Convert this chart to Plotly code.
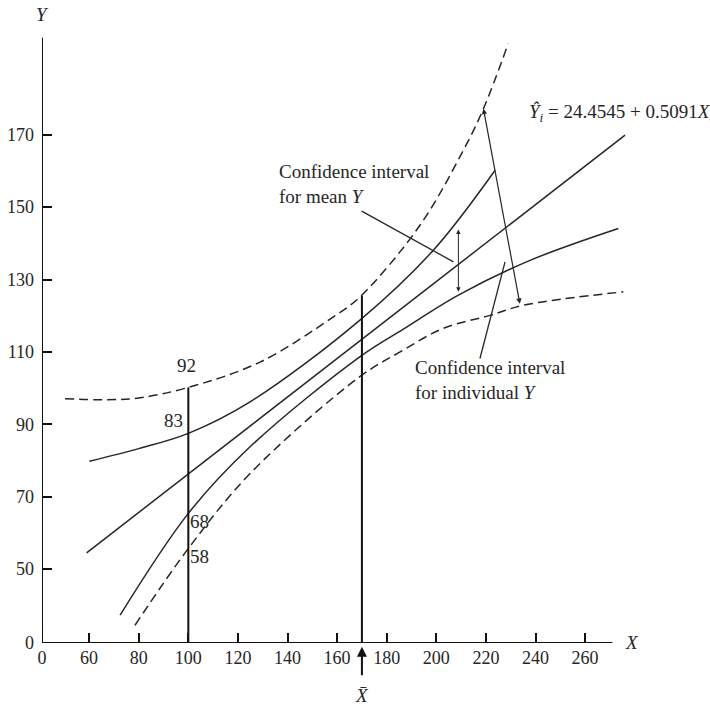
import plotly.graph_objects as go

FONT = "Liberation Serif"
INK = "#262626"

# ---- axis ticks (broken axes: the "0" label marks the origin) ----
x_tick_vals = [41, 60, 80, 100, 120, 140, 160, 180, 200, 220, 240, 260]
x_tick_text = ["0", "60", "80", "100", "120", "140", "160", "180", "200", "220", "240", "260"]
y_tick_vals = [29.6, 50, 70, 90, 110, 130, 150, 170]
y_tick_text = ["0", "50", "70", "90", "110", "130", "150", "170"]
x_origin, x_axis_end = 41, 271
y_origin, y_axis_end = 29.6, 196.8

# ---- regression line  Y^ = 24.4545 + 0.5091 X ----
reg_x = [59.0, 276.1]
reg_y = [54.5, 169.9]

# ---- confidence band for mean Y (solid) ----
mean_up_x = [60.1, 80, 100, 124.9, 169.2, 198.8, 223.7]
mean_up_y = [79.8, 83.3, 87.5, 96.2, 118.8, 138.1, 160.2]
mean_lo_x = [72.5, 100, 124.9, 169, 186.7, 208.9, 237.8, 273.4]
mean_lo_y = [37.3, 65.4, 83.8, 108.6, 116.3, 125.7, 135.3, 144.1]

# ---- confidence band for individual Y (dashed) ----
ind_up_x = [50.3, 66, 80, 100, 128.9, 158.5, 169.2, 193.4, 210.9, 219.0, 229.0]
ind_up_y = [97.1, 96.8, 97.3, 100.2, 107.2, 119.7, 125.2, 145.0, 165.7, 177.2, 195.2]
ind_lo_x = [78.5, 100, 124.9, 169, 185.4, 202.8, 221.7, 235.1, 275.4]
ind_lo_y = [34.5, 55.7, 76.4, 103.1, 110.0, 116.5, 120.1, 122.9, 126.6]

# ---- vertical reference lines ----
x_at = 100
x_at_top = 100.2
x_mean = 170
x_mean_top = 125.5

# ---- interval labels at X = 100 ----
val_labels = ["92", "83", "68", "58"]
val_label_x = [99.4, 94.0, 104.4, 104.7]
val_label_y = [106.3, 91.1, 63.3, 53.4]

# ---- arrows / pointers ----
mean_arrow = dict(x=208.9, y0=126.2, y1=143.8)
ind_arrow = dict(x0=233.8, y0=122.9, x1=219.0, y1=177.2)
mean_pointer = dict(x0=169.9, y0=148.9, x1=206.9, y1=134.9)
ind_pointer = dict(x0=217.6, y0=108.2, x1=227.7, y1=134.9)

fig = go.Figure()

solid = dict(color=INK, width=1.5)
dashed = dict(color=INK, width=1.5, dash="9px,5px")

fig.add_trace(go.Scatter(x=reg_x, y=reg_y, mode="lines", line=solid))
fig.add_trace(go.Scatter(x=mean_up_x, y=mean_up_y, mode="lines", line=dict(**solid, shape="spline")))
fig.add_trace(go.Scatter(x=mean_lo_x, y=mean_lo_y, mode="lines", line=dict(**solid, shape="spline")))
fig.add_trace(go.Scatter(x=ind_up_x, y=ind_up_y, mode="lines", line=dict(**dashed, shape="spline")))
fig.add_trace(go.Scatter(x=ind_lo_x, y=ind_lo_y, mode="lines", line=dict(**dashed, shape="spline")))
fig.add_trace(go.Scatter(x=[x_at, x_at], y=[y_origin, x_at_top], mode="lines",
                         line=dict(color="#111", width=2)))
fig.add_trace(go.Scatter(x=[x_mean, x_mean], y=[y_origin, x_mean_top], mode="lines",
                         line=dict(color="#111", width=2)))

# axis lines
fig.add_shape(type="line", x0=x_origin, x1=x_axis_end, y0=y_origin, y1=y_origin,
              line=dict(color="#111", width=2))
fig.add_shape(type="line", x0=x_origin, x1=x_origin, y0=y_origin, y1=y_axis_end,
              line=dict(color="#111", width=2))
# pointers
for p in (mean_pointer, ind_pointer):
    fig.add_shape(type="line", x0=p["x0"], y0=p["y0"], x1=p["x1"], y1=p["y1"],
                  line=dict(color=INK, width=1.3))

tfont = dict(family=FONT, size=19, color=INK)
ann = []
# double-headed arrows
ann.append(dict(x=mean_arrow["x"], y=mean_arrow["y1"], ax=mean_arrow["x"], ay=mean_arrow["y0"],
                xref="x", yref="y", axref="x", ayref="y", text="", showarrow=True,
                arrowhead=2, startarrowhead=2, arrowside="end+start", arrowsize=0.9,
                startarrowsize=0.9, arrowwidth=1, arrowcolor=INK))
ann.append(dict(x=ind_arrow["x1"], y=ind_arrow["y1"], ax=ind_arrow["x0"], ay=ind_arrow["y0"],
                xref="x", yref="y", axref="x", ayref="y", text="", showarrow=True,
                arrowhead=2, startarrowhead=2, arrowside="end+start", arrowsize=0.9,
                startarrowsize=0.9, arrowwidth=1.2, arrowcolor=INK))
# X-bar arrow below the axis
ann.append(dict(x=x_mean, y=-0.006, xref="x", yref="paper", ax=0, ay=30, text="",
                showarrow=True, arrowhead=2, arrowsize=1, arrowwidth=2, arrowcolor="#111"))
ann.append(dict(x=x_mean, y=-0.086, xref="x", yref="paper", xanchor="center", yanchor="middle",
                text="<i>X̄</i>", showarrow=False, font=tfont))
# axis titles
ann.append(dict(x=0, y=1.0245, xref="paper", yref="paper", xanchor="center", yanchor="middle",
                text="<i>Y</i>", showarrow=False, font=tfont))
ann.append(dict(x=0.9704, y=0.0016, xref="paper", yref="paper", xanchor="center",
                yanchor="middle", text="<i>X</i>", showarrow=False, font=tfont))
# labels
for t, lx, ly in zip(val_labels, val_label_x, val_label_y):
    ann.append(dict(x=lx, y=ly, xref="x", yref="y", text=t, showarrow=False, font=tfont))
ann.append(dict(x=135.6, y=156.3, xref="x", yref="y", xanchor="left", align="left",
                text="Confidence interval<br>for mean <i>Y</i>", showarrow=False, font=tfont))
ann.append(dict(x=190.6, y=102.2, xref="x", yref="y", xanchor="left", align="left",
                text="Confidence interval<br>for individual <i>Y</i>", showarrow=False, font=tfont))
ann.append(dict(x=236.6, y=175.9, xref="x", yref="y", xanchor="left",
                text="<i>Ŷ<sub>i</sub></i> = 24.4545 + 0.5091<i>X<sub>i</sub></i>",
                showarrow=False, font=tfont))

fig.update_layout(
    width=710, height=708,
    margin=dict(l=42, r=60, t=30, b=65),
    plot_bgcolor="white", paper_bgcolor="white",
    showlegend=False,
    annotations=ann,
    xaxis=dict(range=[41, 41 + 608 / 2.48], tickmode="array", tickvals=x_tick_vals,
               ticktext=x_tick_text, ticks="inside", ticklen=10, tickwidth=2, tickcolor="#111",
               showgrid=False, zeroline=False, showline=False, ticklabelstandoff=2,
               automargin=False, tickfont=dict(family=FONT, size=18, color=INK)),
    yaxis=dict(range=[29.6, 29.6 + 613 / 3.62], tickmode="array", tickvals=y_tick_vals,
               ticktext=y_tick_text, ticks="inside", ticklen=10, tickwidth=2, tickcolor="#111",
               showgrid=False, zeroline=False, showline=False, ticklabelstandoff=7,
               automargin=False, tickfont=dict(family=FONT, size=18, color=INK)),
)

fig.write_html("out.html")
